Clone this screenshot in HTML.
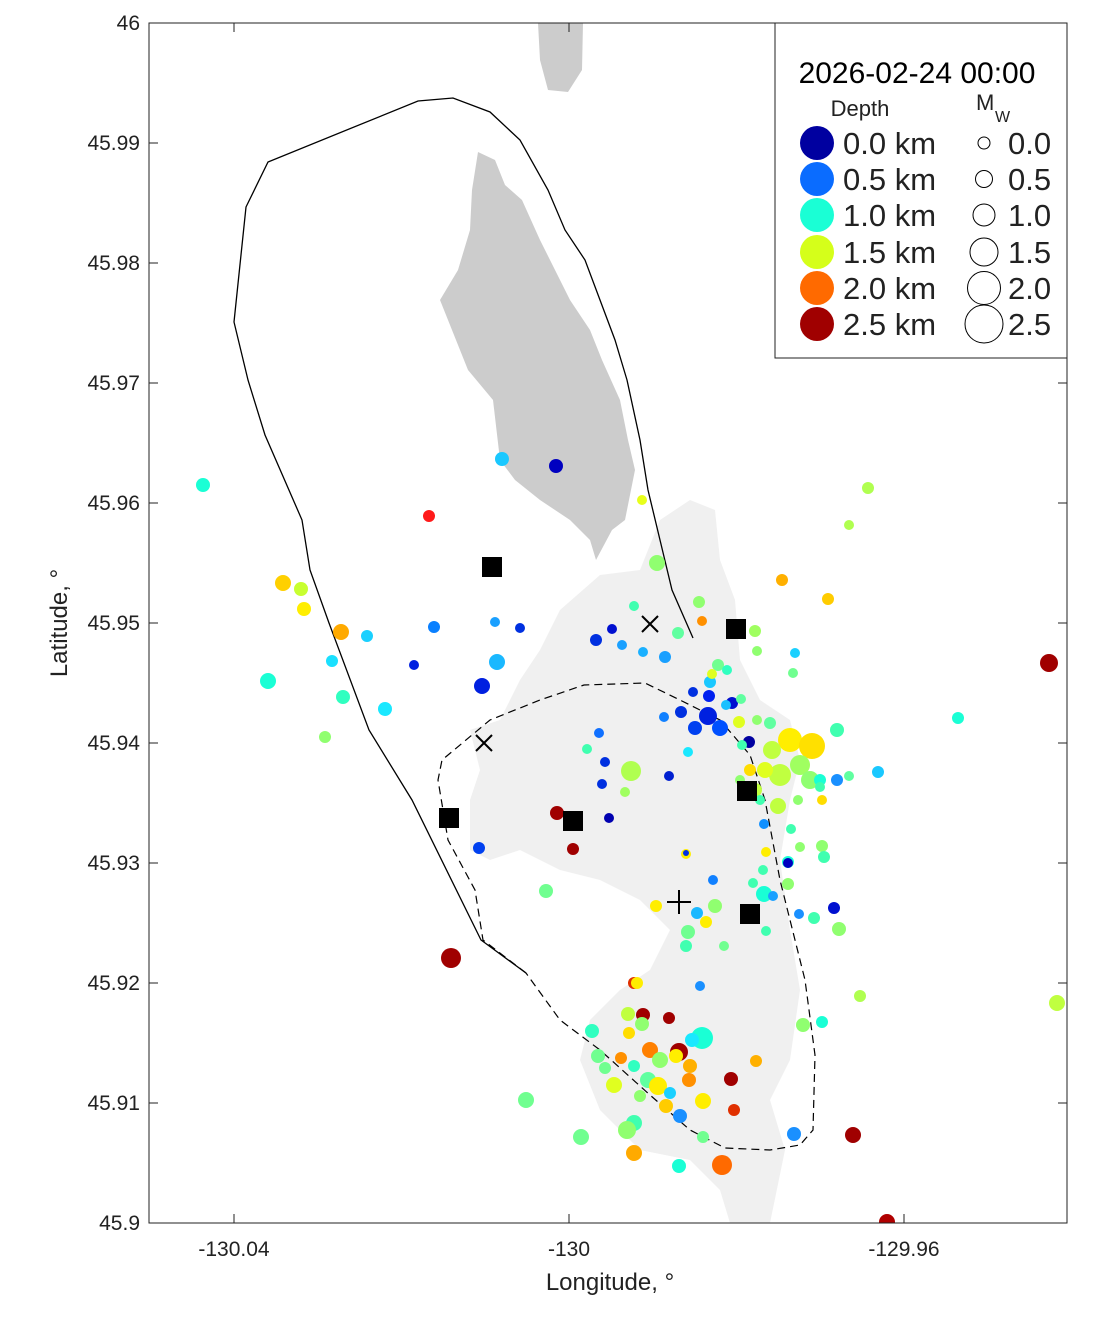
<!DOCTYPE html>
<html><head><meta charset="utf-8"><style>
body{margin:0;background:#fff;font-family:"Liberation Sans",sans-serif}
svg text{font-family:"Liberation Sans",sans-serif;fill:#222}
</style></head><body>
<svg width="1111" height="1324" viewBox="0 0 1111 1324" xmlns="http://www.w3.org/2000/svg">
<defs><clipPath id="c"><rect x="149" y="23" width="918" height="1200"/></clipPath></defs>
<g clip-path="url(#c)">
<path fill="#f0f0f0" d="M560,610 L600,575 L640,570 L660,520 L690,500 L715,510 L720,560 L735,600 L740,660 L760,700 L790,720 L800,760 L790,800 L780,860 L790,930 L800,990 L790,1060 L770,1100 L785,1150 L770,1223 L730,1223 L720,1190 L690,1160 L640,1150 L600,1110 L580,1060 L590,1020 L620,990 L650,970 L670,930 L640,900 L600,880 L560,870 L520,850 L490,860 L470,850 L470,800 L480,770 L470,730 L500,720 L520,680 L540,650 Z"/>
<path fill="#cccccc" d="M538,23 L583,23 L582,70 L568,92 L548,90 L540,60 Z M478,152 L495,160 L505,185 L522,200 L540,240 L570,300 L590,330 L602,360 L620,400 L628,440 L635,470 L625,520 L612,530 L596,560 L590,540 L570,520 L540,500 L515,480 L500,460 L493,400 L468,370 L452,330 L440,300 L458,270 L470,230 L472,190 Z"/>
<path fill="none" stroke="#000" stroke-width="1.3" d="M693,638 L672,590 L660,540 L648,490 L640,440 L627,380 L615,340 L600,300 L585,260 L565,230 L548,190 L520,140 L490,112 L453,98 L418,101 L268,162 L246,207 L234,322 L248,380 L265,435 L302,520 L310,570 L329,623 L369,730 L412,800 L481,940 L526,973"/>
<path fill="none" stroke="#000" stroke-width="1.2" stroke-dasharray="8,5" d="M526,973 L483,940 L475,890 L448,840 L438,780 L442,760 L490,720 L540,700 L584,685 L645,683 L680,700 L720,720 L750,755 L765,800 L780,880 L795,940 L805,980 L815,1055 L813,1130 L800,1145 L770,1150 L725,1148 L690,1130 L650,1095 L600,1050 L560,1020 L526,973"/>
<g stroke="none">
<circle cx="203" cy="485" r="7" fill="#1affd5"/><circle cx="502" cy="459" r="7" fill="#1ac8ff"/><circle cx="556" cy="466" r="7" fill="#0000c0"/>
<circle cx="429" cy="516" r="6" fill="#ff1a1a"/><circle cx="642" cy="500" r="5" fill="#e8ff1a"/><circle cx="283" cy="583" r="8" fill="#ffd000"/>
<circle cx="301" cy="589" r="7" fill="#c8ff30"/><circle cx="304" cy="609" r="7" fill="#ffee00"/><circle cx="341" cy="632" r="8" fill="#ffaa00"/>
<circle cx="367" cy="636" r="6" fill="#1ad0ff"/><circle cx="434" cy="627" r="6" fill="#0a80ff"/><circle cx="414" cy="665" r="5" fill="#0020e0"/>
<circle cx="332" cy="661" r="6" fill="#1ae0ff"/><circle cx="268" cy="681" r="8" fill="#1affd5"/><circle cx="343" cy="697" r="7" fill="#30ffc0"/>
<circle cx="385" cy="709" r="7" fill="#1ae8ff"/><circle cx="325" cy="737" r="6" fill="#90ff70"/><circle cx="482" cy="686" r="8" fill="#0020e0"/>
<circle cx="497" cy="662" r="8" fill="#1ab8ff"/><circle cx="495" cy="622" r="5" fill="#1aa0ff"/><circle cx="520" cy="628" r="5" fill="#0030e0"/>
<circle cx="657" cy="563" r="8" fill="#90ff70"/><circle cx="634" cy="606" r="5" fill="#40ffb0"/><circle cx="612" cy="629" r="5" fill="#0010d0"/>
<circle cx="596" cy="640" r="6" fill="#0030e0"/><circle cx="622" cy="645" r="5" fill="#1aa0ff"/><circle cx="643" cy="652" r="5" fill="#1ab0ff"/>
<circle cx="665" cy="657" r="6" fill="#1aa0ff"/><circle cx="678" cy="633" r="6" fill="#60ffa0"/><circle cx="699" cy="602" r="6" fill="#90ff70"/>
<circle cx="702" cy="621" r="5" fill="#ff9000"/><circle cx="755" cy="631" r="6" fill="#a0ff60"/><circle cx="782" cy="580" r="6" fill="#ffb000"/>
<circle cx="828" cy="599" r="6" fill="#ffcc00"/><circle cx="849" cy="525" r="5" fill="#b0ff50"/><circle cx="868" cy="488" r="6" fill="#b0ff50"/>
<circle cx="795" cy="653" r="5" fill="#1ad0ff"/><circle cx="793" cy="673" r="5" fill="#70ff90"/><circle cx="757" cy="651" r="5" fill="#90ff70"/>
<circle cx="958" cy="718" r="6" fill="#1affd5"/><circle cx="1049" cy="663" r="9" fill="#a00000"/><circle cx="878" cy="772" r="6" fill="#1ac8ff"/>
<circle cx="693" cy="692" r="5" fill="#0030e0"/><circle cx="709" cy="696" r="6" fill="#0020f0"/><circle cx="708" cy="716" r="9" fill="#0020e0"/>
<circle cx="720" cy="728" r="8" fill="#0050ff"/><circle cx="695" cy="728" r="7" fill="#0040f0"/><circle cx="681" cy="712" r="6" fill="#0030e0"/>
<circle cx="664" cy="717" r="5" fill="#1080ff"/><circle cx="732" cy="703" r="6" fill="#0010d0"/><circle cx="749" cy="742" r="6" fill="#0000a0"/>
<circle cx="726" cy="705" r="5" fill="#1ac0ff"/><circle cx="718" cy="665" r="6" fill="#70ff90"/><circle cx="727" cy="670" r="5" fill="#30ffc0"/>
<circle cx="710" cy="682" r="6" fill="#1ac8ff"/><circle cx="741" cy="699" r="5" fill="#60ffa0"/><circle cx="712" cy="674" r="5" fill="#e0ff20"/>
<circle cx="688" cy="752" r="5" fill="#1ae8ff"/><circle cx="669" cy="776" r="5" fill="#0020d0"/><circle cx="631" cy="771" r="10" fill="#b0ff50"/>
<circle cx="625" cy="792" r="5" fill="#a0ff60"/><circle cx="587" cy="749" r="5" fill="#40ffb0"/><circle cx="599" cy="733" r="5" fill="#1070ff"/>
<circle cx="605" cy="762" r="5" fill="#0030e0"/><circle cx="602" cy="784" r="5" fill="#0030e0"/><circle cx="609" cy="818" r="5" fill="#0000b0"/>
<circle cx="557" cy="813" r="7" fill="#a00000"/><circle cx="573" cy="849" r="6" fill="#a00000"/><circle cx="479" cy="848" r="6" fill="#0040f0"/>
<circle cx="546" cy="891" r="7" fill="#70ff90"/><circle cx="451" cy="958" r="10" fill="#a00000"/>
<circle cx="790" cy="740" r="12" fill="#ffee00"/><circle cx="812" cy="746" r="13" fill="#ffe000"/><circle cx="772" cy="750" r="9" fill="#c0ff40"/>
<circle cx="800" cy="765" r="10" fill="#a0ff60"/><circle cx="780" cy="775" r="11" fill="#c0ff40"/><circle cx="765" cy="770" r="8" fill="#e0ff20"/>
<circle cx="810" cy="780" r="9" fill="#90ff70"/><circle cx="837" cy="730" r="7" fill="#40ffb0"/><circle cx="770" cy="723" r="6" fill="#60ffa0"/>
<circle cx="757" cy="720" r="5" fill="#90ff70"/><circle cx="739" cy="722" r="6" fill="#e0ff20"/><circle cx="742" cy="745" r="5" fill="#40ffb0"/>
<circle cx="750" cy="770" r="6" fill="#ffdd00"/><circle cx="740" cy="780" r="5" fill="#90ff70"/><circle cx="755" cy="790" r="7" fill="#c0ff40"/>
<circle cx="778" cy="806" r="8" fill="#c0ff40"/><circle cx="760" cy="800" r="5" fill="#40ffb0"/><circle cx="798" cy="800" r="5" fill="#90ff70"/>
<circle cx="820" cy="780" r="6" fill="#1affd5"/><circle cx="837" cy="780" r="6" fill="#1a90ff"/><circle cx="849" cy="776" r="5" fill="#60ffa0"/>
<circle cx="822" cy="800" r="5" fill="#ffdd00"/><circle cx="820" cy="787" r="5" fill="#40ffb0"/><circle cx="764" cy="824" r="5" fill="#1090ff"/>
<circle cx="791" cy="829" r="5" fill="#40ffb0"/><circle cx="800" cy="847" r="5" fill="#90ff70"/><circle cx="766" cy="852" r="5" fill="#ffee00"/>
<circle cx="788" cy="862" r="6" fill="#1affd5"/><circle cx="822" cy="846" r="6" fill="#90ff70"/><circle cx="824" cy="857" r="6" fill="#40ffb0"/>
<circle cx="788" cy="863" r="5" fill="#0000c0"/><circle cx="763" cy="870" r="5" fill="#40ffb0"/><circle cx="788" cy="884" r="6" fill="#90ff70"/>
<circle cx="753" cy="883" r="5" fill="#40ffb0"/><circle cx="764" cy="894" r="8" fill="#1affd5"/><circle cx="773" cy="896" r="5" fill="#1aa0ff"/>
<circle cx="713" cy="880" r="5" fill="#1080ff"/><circle cx="686" cy="854" r="5" fill="#ffee00"/><circle cx="686" cy="853" r="3" fill="#0030e0"/>
<circle cx="656" cy="906" r="6" fill="#ffee00"/><circle cx="697" cy="913" r="6" fill="#1ab8ff"/><circle cx="715" cy="906" r="7" fill="#90ff70"/>
<circle cx="706" cy="922" r="6" fill="#ffee00"/><circle cx="688" cy="932" r="7" fill="#70ff90"/><circle cx="686" cy="946" r="6" fill="#40ffb0"/>
<circle cx="724" cy="946" r="5" fill="#70ff90"/><circle cx="766" cy="931" r="5" fill="#40ffb0"/><circle cx="799" cy="914" r="5" fill="#1a90ff"/>
<circle cx="814" cy="918" r="6" fill="#40ffb0"/><circle cx="834" cy="908" r="6" fill="#0010d0"/><circle cx="839" cy="929" r="7" fill="#90ff70"/>
<circle cx="860" cy="996" r="6" fill="#b0ff50"/><circle cx="803" cy="1025" r="7" fill="#90ff70"/><circle cx="822" cy="1022" r="6" fill="#1affd5"/>
<circle cx="1057" cy="1003" r="8" fill="#c0ff40"/><circle cx="634" cy="983" r="6" fill="#e03000"/><circle cx="637" cy="983" r="6" fill="#ffee00"/>
<circle cx="700" cy="986" r="5" fill="#1a90ff"/><circle cx="643" cy="1015" r="7" fill="#a00000"/><circle cx="669" cy="1018" r="6" fill="#a00000"/>
<circle cx="628" cy="1014" r="7" fill="#c0ff40"/><circle cx="642" cy="1024" r="7" fill="#90ff70"/><circle cx="629" cy="1033" r="6" fill="#ffdd00"/>
<circle cx="592" cy="1031" r="7" fill="#30ffc0"/><circle cx="702" cy="1038" r="11" fill="#1affd5"/><circle cx="692" cy="1040" r="7" fill="#1ae8ff"/>
<circle cx="679" cy="1052" r="9" fill="#a00000"/><circle cx="676" cy="1056" r="7" fill="#ffee00"/><circle cx="650" cy="1050" r="8" fill="#ff8000"/>
<circle cx="660" cy="1060" r="8" fill="#90ff70"/><circle cx="621" cy="1058" r="6" fill="#ff9000"/><circle cx="598" cy="1056" r="7" fill="#70ff90"/>
<circle cx="605" cy="1068" r="6" fill="#70ff90"/><circle cx="634" cy="1066" r="6" fill="#30ffc0"/><circle cx="690" cy="1066" r="7" fill="#ffb000"/>
<circle cx="756" cy="1061" r="6" fill="#ffb000"/><circle cx="648" cy="1080" r="8" fill="#60ffa0"/><circle cx="658" cy="1086" r="9" fill="#ffee00"/>
<circle cx="614" cy="1085" r="8" fill="#e0ff20"/><circle cx="689" cy="1080" r="7" fill="#ff9000"/><circle cx="731" cy="1079" r="7" fill="#a00000"/>
<circle cx="670" cy="1093" r="6" fill="#1ad0ff"/><circle cx="640" cy="1096" r="6" fill="#90ff70"/><circle cx="703" cy="1101" r="8" fill="#ffee00"/>
<circle cx="666" cy="1106" r="7" fill="#ffcc00"/><circle cx="680" cy="1116" r="7" fill="#1a90ff"/><circle cx="734" cy="1110" r="6" fill="#e03000"/>
<circle cx="526" cy="1100" r="8" fill="#70ff90"/><circle cx="634" cy="1123" r="8" fill="#40ffb0"/><circle cx="627" cy="1130" r="9" fill="#90ff70"/>
<circle cx="581" cy="1137" r="8" fill="#70ff90"/><circle cx="703" cy="1137" r="6" fill="#70ff90"/><circle cx="794" cy="1134" r="7" fill="#1a90ff"/>
<circle cx="853" cy="1135" r="8" fill="#a00000"/><circle cx="634" cy="1153" r="8" fill="#ffaa00"/><circle cx="679" cy="1166" r="7" fill="#1affd5"/>
<circle cx="722" cy="1165" r="10" fill="#ff6a00"/><circle cx="887" cy="1222" r="8" fill="#b00000"/>
</g>
<g fill="#000"><rect x="482" y="557" width="20" height="20"/><rect x="726" y="619" width="20" height="20"/><rect x="439" y="808" width="20" height="20"/>
<rect x="563" y="811" width="20" height="20"/><rect x="737" y="781" width="20" height="20"/><rect x="740" y="904" width="20" height="20"/></g>
<g stroke="#000" stroke-width="2"><path d="M642,616 L658,632 M658,616 L642,632"/><path d="M476,735 L492,751 M492,735 L476,751"/><path d="M679,890 L679,914 M667,902 L691,902"/></g>
</g>
<rect x="149" y="23" width="918" height="1200" fill="none" stroke="#222" stroke-width="1"/>
<g stroke="#222" stroke-width="1">
<path d="M149,143 h9 M149,263 h9 M149,383 h9 M149,503 h9 M149,623 h9 M149,743 h9 M149,863 h9 M149,983 h9 M149,1103 h9"/>
<path d="M1067,143 h-9 M1067,263 h-9 M1067,383 h-9 M1067,503 h-9 M1067,623 h-9 M1067,743 h-9 M1067,863 h-9 M1067,983 h-9 M1067,1103 h-9"/>
<path d="M234,1223 v-9 M569,1223 v-9 M904,1223 v-9 M234,23 v9 M569,23 v9 M904,23 v9"/>
</g>
<g font-size="21" text-anchor="end">
<text x="140" y="30">46</text><text x="140" y="150">45.99</text><text x="140" y="270">45.98</text><text x="140" y="390">45.97</text>
<text x="140" y="510">45.96</text><text x="140" y="630">45.95</text><text x="140" y="750">45.94</text><text x="140" y="870">45.93</text>
<text x="140" y="990">45.92</text><text x="140" y="1110">45.91</text><text x="140" y="1230">45.9</text></g>
<g font-size="21" text-anchor="middle"><text x="234" y="1256">-130.04</text><text x="569" y="1256">-130</text><text x="904" y="1256">-129.96</text>
<text x="610" y="1290" font-size="24">Longitude, °</text></g>
<text transform="translate(67,623) rotate(-90)" font-size="24" text-anchor="middle">Latitude, °</text>
<rect x="775" y="23" width="292" height="335" fill="#fff" stroke="#222"/>
<text x="917" y="83" font-size="30" text-anchor="middle" style="fill:#000">2026-02-24 00:00</text>
<text x="860" y="116" font-size="22" text-anchor="middle">Depth</text>
<text x="976" y="110" font-size="22">M</text><text x="995" y="122" font-size="16">W</text>
<g font-size="31" style="fill:#000">
<circle cx="817" cy="143" r="17" fill="#0000a0"/><text x="843" y="154">0.0 km</text>
<circle cx="817" cy="179" r="17" fill="#0a6cff"/><text x="843" y="190">0.5 km</text>
<circle cx="817" cy="215" r="17" fill="#1affd5"/><text x="843" y="226">1.0 km</text>
<circle cx="817" cy="252" r="17" fill="#d5ff1a"/><text x="843" y="263">1.5 km</text>
<circle cx="817" cy="288" r="17" fill="#ff6a00"/><text x="843" y="299">2.0 km</text>
<circle cx="817" cy="324" r="17" fill="#a00000"/><text x="843" y="335">2.5 km</text>
<g fill="none" stroke="#000" stroke-width="1">
<circle cx="984" cy="143" r="6"/><circle cx="984" cy="179" r="8.5"/><circle cx="984" cy="215" r="11"/><circle cx="984" cy="252" r="14"/><circle cx="984" cy="288" r="16.5"/><circle cx="984" cy="324" r="19"/></g>
<text x="1008" y="154">0.0</text><text x="1008" y="190">0.5</text><text x="1008" y="226">1.0</text><text x="1008" y="263">1.5</text><text x="1008" y="299">2.0</text><text x="1008" y="335">2.5</text>
</g>
</svg>
</body></html>
